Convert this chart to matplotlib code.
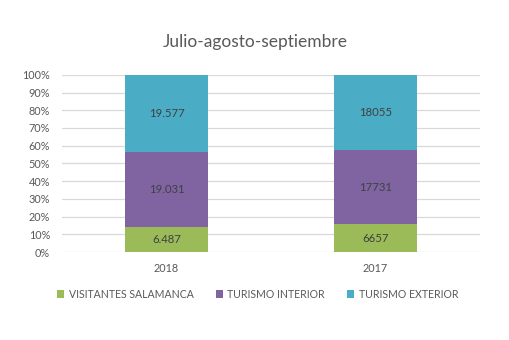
import numpy as np
import matplotlib.pyplot as plt

# Datos
categorias = ['2018', '2017']
series = ['VISITANTES SALAMANCA', 'TURISMO INTERIOR', 'TURISMO EXTERIOR']
visitantes = [6487, 6657]
interior = [19031, 17731]
exterior = [19577, 18055]
# etiquetas tal y como aparecen en el grafico original
etiquetas = [['6.487', '6657'], ['19.031', '17731'], ['19.577', '18055']]
colores = ['#9BBB59', '#8064A2', '#4BACC6']

plt.rcParams['font.family'] = ['Lato', 'DejaVu Sans']

valores = np.array([visitantes, interior, exterior], dtype=float)
pct = valores / valores.sum(axis=0) * 100

fig = plt.figure(figsize=(5.1, 3.4), dpi=100)
ax = fig.add_axes([0.1216, 0.2588, 0.8194, 0.5212])

x = np.arange(len(categorias))
base = np.zeros(len(categorias))
for i, nombre in enumerate(series):
    ax.bar(x, pct[i], 0.4, bottom=base, color=colores[i], label=nombre, zorder=3)
    for j in range(len(categorias)):
        ax.text(x[j], base[j] + pct[i][j] / 2, etiquetas[i][j], ha='center', va='center',
                fontsize=8.2, color='#404040', zorder=4)
    base += pct[i]

ax.set_xlim(-0.5, 1.5)
ax.set_ylim(0, 100)
ax.set_yticks(np.arange(0, 101, 10))
ax.set_yticklabels([f'{v}%' for v in range(0, 101, 10)])
ax.set_xticks(x)
ax.set_xticklabels(categorias)
ax.tick_params(axis='both', length=0, labelsize=7.8, colors='#595959')
ax.tick_params(axis='x', pad=8)
ax.tick_params(axis='y', pad=8.5)
ax.grid(axis='y', color='#D9D9D9', lw=0.9, zorder=0)
for s in ax.spines.values():
    s.set_visible(False)

fig.text(0.5, 0.875, 'Julio-agosto-septiembre', ha='center', va='center', fontsize=12.5, color='#595959')

fig.legend(loc='center', bbox_to_anchor=(0.505, 0.135), ncol=3, frameon=False, fontsize=7.6,
           handlelength=0.7, handleheight=0.7, handletextpad=0.4, columnspacing=2.1,
           labelcolor='#595959')

fig.savefig('out.png', dpi=100)
